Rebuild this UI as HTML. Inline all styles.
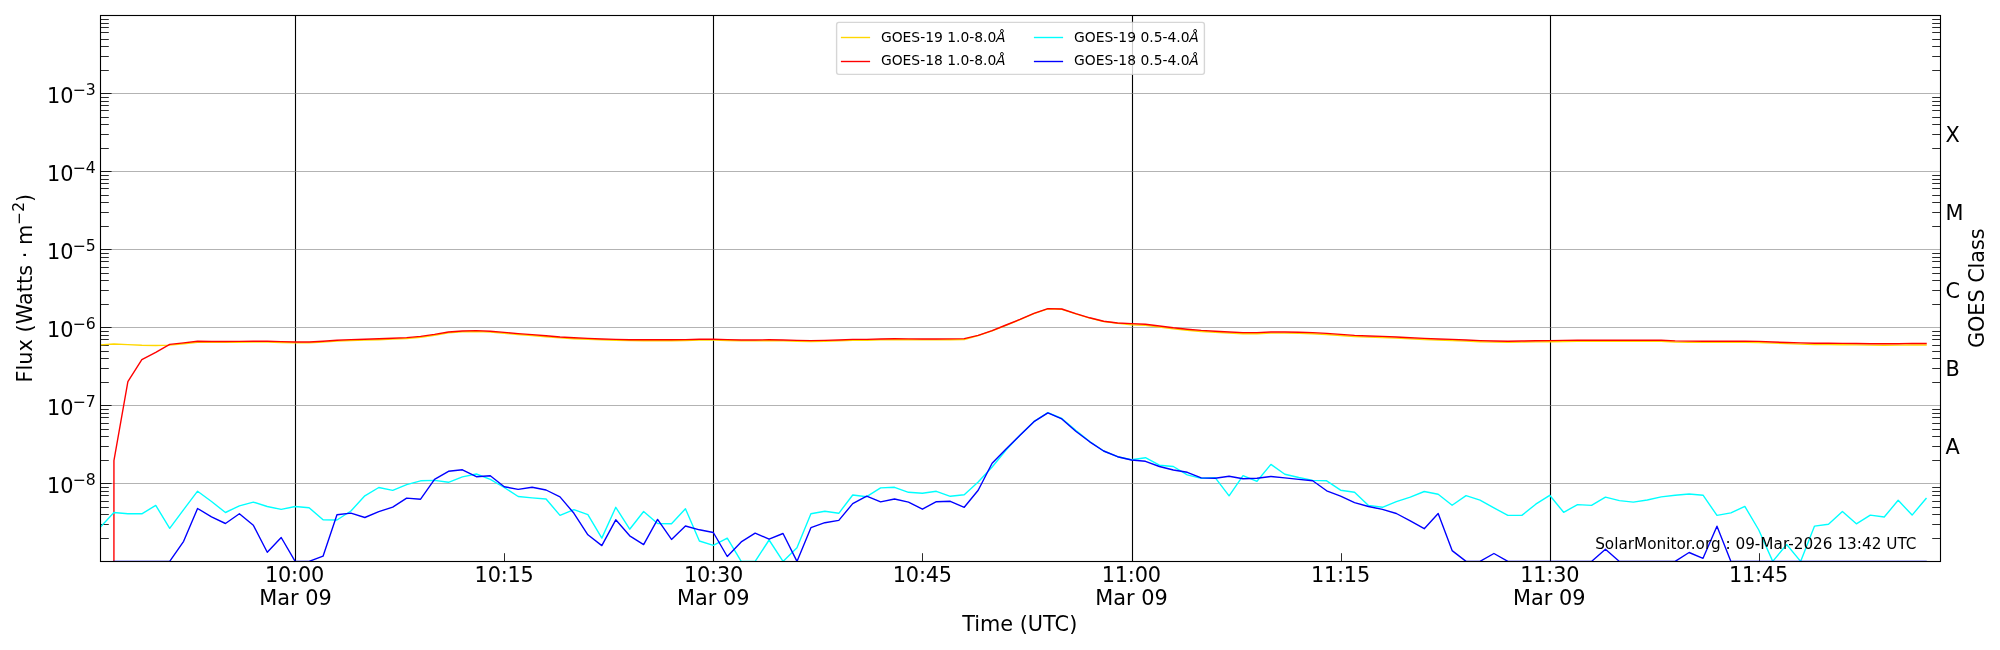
<!DOCTYPE html>
<html lang="en"><head><meta charset="utf-8"><title>GOES X-ray Flux</title>
<style>html,body{margin:0;padding:0;background:#fff}svg{display:block;will-change:transform}text{font-family:"DejaVu Sans","Liberation Sans",sans-serif;fill:#000}</style></head><body>
<svg width="2000" height="650" viewBox="0 0 2000 650">
<rect width="2000" height="650" fill="#fff"/>
<defs><clipPath id="ax"><rect x="100" y="15" width="1840.5" height="546.5"/></clipPath></defs>
<g stroke="#000" stroke-width="1.11" fill="none">
<path d="M295.5 15.5V561.5"/>
<path d="M713.5 15.5V561.5"/>
<path d="M1132.5 15.5V561.5"/>
<path d="M1550.5 15.5V561.5"/>
</g>
<g stroke="#808080" stroke-opacity="0.6" stroke-width="1.11" fill="none">
<path d="M100.5 93.5H1940.5"/>
<path d="M100.5 171.5H1940.5"/>
<path d="M100.5 249.5H1940.5"/>
<path d="M100.5 327.5H1940.5"/>
<path d="M100.5 405.5H1940.5"/>
<path d="M100.5 483.5H1940.5"/>
</g>
<g stroke="#000" fill="none">
<path stroke-width="0.85" d="M100.5 483.5h11.1M100.5 405.5h11.1M100.5 327.5h11.1M100.5 249.5h11.1M100.5 171.5h11.1M100.5 93.5h11.1"/>
<path stroke-width="0.83" d="M100.5 538.5h8.3M100.5 524.5h8.3M100.5 514.5h8.3M100.5 507.5h8.3M100.5 501.5h8.3M100.5 495.5h8.3M100.5 491.5h8.3M100.5 487.5h8.3M100.5 460.5h8.3M100.5 446.5h8.3M100.5 436.5h8.3M100.5 429.5h8.3M100.5 423.5h8.3M100.5 417.5h8.3M100.5 413.5h8.3M100.5 409.5h8.3M100.5 382.5h8.3M100.5 368.5h8.3M100.5 358.5h8.3M100.5 351.5h8.3M100.5 345.5h8.3M100.5 339.5h8.3M100.5 335.5h8.3M100.5 331.5h8.3M100.5 304.5h8.3M100.5 290.5h8.3M100.5 280.5h8.3M100.5 273.5h8.3M100.5 267.5h8.3M100.5 261.5h8.3M100.5 257.5h8.3M100.5 253.5h8.3M100.5 226.5h8.3M100.5 212.5h8.3M100.5 202.5h8.3M100.5 195.5h8.3M100.5 188.5h8.3M100.5 183.5h8.3M100.5 179.5h8.3M100.5 175.5h8.3M100.5 148.5h8.3M100.5 134.5h8.3M100.5 124.5h8.3M100.5 117.5h8.3M100.5 110.5h8.3M100.5 105.5h8.3M100.5 101.5h8.3M100.5 97.5h8.3M100.5 70.5h8.3M100.5 56.5h8.3M100.5 46.5h8.3M100.5 39.5h8.3M100.5 32.5h8.3M100.5 27.5h8.3M100.5 23.5h8.3M100.5 19.5h8.3"/>
<path stroke-width="0.83" d="M1940.5 538.5h-8.3M1940.5 524.5h-8.3M1940.5 514.5h-8.3M1940.5 507.5h-8.3M1940.5 501.5h-8.3M1940.5 495.5h-8.3M1940.5 491.5h-8.3M1940.5 487.5h-8.3M1940.5 460.5h-8.3M1940.5 446.5h-8.3M1940.5 436.5h-8.3M1940.5 429.5h-8.3M1940.5 423.5h-8.3M1940.5 417.5h-8.3M1940.5 413.5h-8.3M1940.5 409.5h-8.3M1940.5 382.5h-8.3M1940.5 368.5h-8.3M1940.5 358.5h-8.3M1940.5 351.5h-8.3M1940.5 345.5h-8.3M1940.5 339.5h-8.3M1940.5 335.5h-8.3M1940.5 331.5h-8.3M1940.5 304.5h-8.3M1940.5 290.5h-8.3M1940.5 280.5h-8.3M1940.5 273.5h-8.3M1940.5 267.5h-8.3M1940.5 261.5h-8.3M1940.5 257.5h-8.3M1940.5 253.5h-8.3M1940.5 226.5h-8.3M1940.5 212.5h-8.3M1940.5 202.5h-8.3M1940.5 195.5h-8.3M1940.5 188.5h-8.3M1940.5 183.5h-8.3M1940.5 179.5h-8.3M1940.5 175.5h-8.3M1940.5 148.5h-8.3M1940.5 134.5h-8.3M1940.5 124.5h-8.3M1940.5 117.5h-8.3M1940.5 110.5h-8.3M1940.5 105.5h-8.3M1940.5 101.5h-8.3M1940.5 97.5h-8.3M1940.5 70.5h-8.3M1940.5 56.5h-8.3M1940.5 46.5h-8.3M1940.5 39.5h-8.3M1940.5 32.5h-8.3M1940.5 27.5h-8.3M1940.5 23.5h-8.3M1940.5 19.5h-8.3"/>
<path stroke-width="0.83" d="M504.5 561.5v-8.3M922.5 561.5v-8.3M1341.5 561.5v-8.3M1759.5 561.5v-8.3"/>
</g>
<g clip-path="url(#ax)" fill="none" stroke-width="1.39" stroke-linejoin="round" stroke-linecap="square">
<path stroke="#ffd700" d="M100.00 344.90 L113.94 344.00 L127.88 344.60 L141.82 345.30 L155.76 345.50 L169.70 345.10 L183.63 343.70 L197.57 342.20 L211.51 342.40 L225.45 342.40 L239.39 342.30 L253.33 342.10 L267.27 342.10 L281.21 342.50 L295.15 342.90 L309.09 342.90 L323.03 342.10 L336.97 341.10 L350.91 340.50 L364.85 340.10 L378.79 339.70 L392.73 339.10 L406.67 338.50 L420.60 337.30 L434.54 335.30 L448.48 332.90 L462.42 331.90 L476.36 331.50 L490.30 332.10 L504.24 333.30 L518.18 334.50 L532.12 335.50 L546.06 336.70 L560.00 337.90 L573.94 338.70 L587.88 339.30 L601.82 339.90 L615.76 340.30 L629.70 340.60 L643.63 340.70 L657.57 340.70 L671.51 340.70 L685.45 340.50 L699.39 340.10 L713.33 340.10 L727.27 340.50 L741.21 340.90 L755.15 340.90 L769.09 340.70 L783.03 340.90 L796.97 341.30 L810.91 341.50 L824.85 341.30 L838.79 340.90 L852.73 340.30 L866.67 340.30 L880.60 339.90 L894.54 339.70 L908.48 339.80 L922.42 339.90 L936.36 339.90 L950.30 339.80 L964.24 339.50 L978.18 335.70 L992.12 330.90 L1006.06 325.30 L1020.00 319.70 L1033.94 313.70 L1047.88 308.90 L1061.82 309.30 L1075.76 313.90 L1089.70 318.10 L1103.64 321.50 L1117.57 323.30 L1131.51 324.70 L1145.45 325.30 L1159.39 327.10 L1173.33 328.90 L1187.27 330.30 L1201.21 331.50 L1215.15 332.30 L1229.09 333.10 L1243.03 333.70 L1256.97 333.70 L1270.91 333.10 L1284.85 333.10 L1298.79 333.30 L1312.73 333.70 L1326.67 334.50 L1340.61 335.50 L1354.54 336.50 L1368.48 337.10 L1382.42 337.50 L1396.36 338.10 L1410.30 338.90 L1424.24 339.50 L1438.18 340.10 L1452.12 340.50 L1466.06 341.10 L1480.00 341.70 L1493.94 342.10 L1507.88 342.30 L1521.82 342.10 L1535.76 341.90 L1549.70 341.70 L1563.64 341.50 L1577.57 341.30 L1591.51 341.30 L1605.45 341.30 L1619.39 341.30 L1633.33 341.30 L1647.27 341.30 L1661.21 341.30 L1675.15 342.00 L1689.09 342.20 L1703.03 342.30 L1716.97 342.30 L1730.91 342.30 L1744.85 342.40 L1758.79 342.50 L1772.73 343.13 L1786.67 343.67 L1800.61 344.10 L1814.54 344.44 L1828.48 344.47 L1842.42 344.71 L1856.36 344.85 L1870.30 345.08 L1884.24 345.22 L1898.18 345.15 L1912.12 344.90 L1926.06 345.00"/>
<path stroke="#ff0000" d="M113.92 700 L113.94 460.70 L127.88 381.70 L141.82 359.70 L155.76 352.30 L169.70 344.40 L183.63 342.90 L197.57 341.30 L211.51 341.50 L225.45 341.50 L239.39 341.40 L253.33 341.20 L267.27 341.20 L281.21 341.60 L295.15 342.00 L309.09 342.00 L323.03 341.20 L336.97 340.20 L350.91 339.60 L364.85 339.20 L378.79 338.80 L392.73 338.20 L406.67 337.60 L420.60 336.40 L434.54 334.40 L448.48 332.00 L462.42 331.00 L476.36 330.60 L490.30 331.20 L504.24 332.40 L518.18 333.60 L532.12 334.60 L546.06 335.80 L560.00 337.00 L573.94 337.80 L587.88 338.40 L601.82 339.00 L615.76 339.40 L629.70 339.70 L643.63 339.80 L657.57 339.80 L671.51 339.80 L685.45 339.60 L699.39 339.20 L713.33 339.20 L727.27 339.60 L741.21 340.00 L755.15 340.00 L769.09 339.80 L783.03 340.00 L796.97 340.40 L810.91 340.60 L824.85 340.40 L838.79 340.00 L852.73 339.40 L866.67 339.40 L880.60 339.00 L894.54 338.80 L908.48 338.90 L922.42 339.00 L936.36 339.00 L950.30 338.90 L964.24 338.60 L978.18 335.40 L992.12 330.60 L1006.06 325.00 L1020.00 319.40 L1033.94 313.40 L1047.88 308.60 L1061.82 309.00 L1075.76 313.60 L1089.70 317.80 L1103.64 321.20 L1117.57 323.00 L1131.51 323.60 L1145.45 324.20 L1159.39 326.00 L1173.33 327.80 L1187.27 329.20 L1201.21 330.40 L1215.15 331.20 L1229.09 332.00 L1243.03 332.60 L1256.97 332.60 L1270.91 332.00 L1284.85 332.00 L1298.79 332.20 L1312.73 332.60 L1326.67 333.40 L1340.61 334.40 L1354.54 335.40 L1368.48 336.00 L1382.42 336.40 L1396.36 337.00 L1410.30 337.80 L1424.24 338.40 L1438.18 339.00 L1452.12 339.40 L1466.06 340.00 L1480.00 340.60 L1493.94 341.00 L1507.88 341.20 L1521.82 341.00 L1535.76 340.80 L1549.70 340.60 L1563.64 340.40 L1577.57 340.20 L1591.51 340.20 L1605.45 340.20 L1619.39 340.20 L1633.33 340.20 L1647.27 340.20 L1661.21 340.20 L1675.15 340.90 L1689.09 341.10 L1703.03 341.20 L1716.97 341.20 L1730.91 341.20 L1744.85 341.30 L1758.79 341.40 L1772.73 342.00 L1786.67 342.50 L1800.61 342.90 L1814.54 343.20 L1828.48 343.20 L1842.42 343.40 L1856.36 343.50 L1870.30 343.70 L1884.24 343.80 L1898.18 343.70 L1912.12 343.40 L1926.06 343.50"/>
<path stroke="#00ffff" d="M100.00 527.50 L113.94 512.50 L127.88 513.80 L141.82 513.80 L155.76 505.40 L169.70 528.30 L183.63 509.60 L197.57 491.20 L211.51 501.50 L225.45 512.50 L239.39 505.80 L253.33 502.10 L267.27 506.50 L281.21 509.40 L295.15 506.50 L309.09 507.70 L323.03 519.80 L336.97 520.00 L350.91 511.00 L364.85 495.80 L378.79 487.50 L392.73 490.40 L406.67 484.60 L420.60 480.80 L434.54 480.40 L448.48 482.30 L462.42 476.90 L476.36 474.00 L490.30 479.40 L504.24 487.50 L518.18 496.50 L532.12 497.90 L546.06 499.00 L560.00 515.40 L573.94 509.60 L587.88 514.60 L601.82 538.10 L615.76 507.30 L629.70 529.20 L643.63 511.50 L657.57 523.50 L671.51 523.70 L685.45 508.70 L699.39 541.00 L713.33 545.40 L727.27 538.10 L741.21 561.40 L755.15 561.40 L769.09 540.00 L783.03 561.40 L796.97 547.70 L810.91 513.70 L824.85 511.30 L838.79 513.30 L852.73 495.00 L866.67 496.70 L880.60 487.90 L894.54 487.30 L908.48 492.30 L922.42 493.30 L936.36 491.30 L950.30 496.30 L964.24 494.70 L978.18 482.00 L992.12 467.00 L1006.06 450.00 L1020.00 435.20 L1033.94 421.70 L1047.88 412.60 L1061.82 418.50 L1075.76 430.30 L1089.70 441.50 L1103.64 451.00 L1117.57 456.70 L1131.51 459.70 L1145.45 457.70 L1159.39 465.20 L1173.33 466.50 L1187.27 474.80 L1201.21 478.30 L1215.15 477.70 L1229.09 495.80 L1243.03 475.60 L1256.97 481.30 L1270.91 464.40 L1284.85 474.20 L1298.79 477.50 L1312.73 480.40 L1326.67 480.80 L1340.61 490.20 L1354.54 492.20 L1368.48 505.40 L1382.42 507.30 L1396.36 501.70 L1410.30 497.10 L1424.24 491.50 L1438.18 494.20 L1452.12 505.20 L1466.06 495.60 L1480.00 500.20 L1493.94 507.90 L1507.88 515.40 L1521.82 515.40 L1535.76 504.20 L1549.70 495.30 L1563.64 512.30 L1577.57 504.60 L1591.51 505.40 L1605.45 497.10 L1619.39 500.60 L1633.33 502.10 L1647.27 500.00 L1661.21 496.90 L1675.15 495.20 L1689.09 494.00 L1703.03 495.20 L1716.97 515.40 L1730.91 512.90 L1744.85 506.40 L1758.79 530.00 L1772.73 561.40 L1786.67 544.50 L1800.61 561.40 L1814.54 526.10 L1828.48 524.30 L1842.42 511.50 L1856.36 523.80 L1870.30 515.10 L1884.24 517.00 L1898.18 500.30 L1912.12 515.10 L1926.06 498.50"/>
<path stroke="#0000ff" d="M113.94 561.40 L127.88 561.40 L141.82 561.40 L155.76 561.40 L169.70 561.40 L183.63 541.30 L197.57 508.50 L211.51 516.90 L225.45 523.50 L239.39 513.70 L253.33 525.20 L267.27 552.30 L281.21 537.50 L295.15 561.40 L309.09 561.40 L323.03 556.20 L336.97 514.80 L350.91 513.10 L364.85 517.50 L378.79 511.70 L392.73 507.10 L406.67 498.10 L420.60 499.20 L434.54 479.40 L448.48 471.30 L462.42 469.80 L476.36 476.70 L490.30 475.80 L504.24 486.70 L518.18 489.40 L532.12 487.30 L546.06 490.00 L560.00 496.90 L573.94 513.30 L587.88 534.80 L601.82 545.60 L615.76 519.80 L629.70 535.80 L643.63 544.60 L657.57 519.40 L671.51 539.40 L685.45 526.00 L699.39 529.80 L713.33 532.50 L727.27 556.50 L741.21 541.90 L755.15 533.10 L769.09 539.20 L783.03 533.50 L796.97 561.40 L810.91 527.70 L824.85 522.70 L838.79 520.40 L852.73 503.60 L866.67 496.20 L880.60 501.90 L894.54 499.00 L908.48 502.10 L922.42 509.20 L936.36 501.70 L950.30 501.30 L964.24 507.30 L978.18 490.20 L992.12 463.20 L1006.06 449.00 L1020.00 435.20 L1033.94 421.70 L1047.88 412.90 L1061.82 418.90 L1075.76 431.30 L1089.70 441.80 L1103.64 451.00 L1117.57 456.70 L1131.51 460.00 L1145.45 461.30 L1159.39 466.50 L1173.33 470.00 L1187.27 472.30 L1201.21 477.90 L1215.15 478.30 L1229.09 476.30 L1243.03 478.70 L1256.97 478.30 L1270.91 476.50 L1284.85 477.90 L1298.79 479.40 L1312.73 480.80 L1326.67 490.80 L1340.61 496.20 L1354.54 502.70 L1368.48 506.50 L1382.42 509.40 L1396.36 513.50 L1410.30 520.80 L1424.24 528.70 L1438.18 513.50 L1452.12 550.60 L1466.06 561.40 L1480.00 561.40 L1493.94 553.50 L1507.88 561.40 L1521.82 561.40 L1535.76 561.40 L1549.70 561.40 L1563.64 561.40 L1577.57 561.40 L1591.51 561.40 L1605.45 549.30 L1619.39 561.40 L1633.33 561.40 L1647.27 561.40 L1661.21 561.40 L1675.15 561.40 L1689.09 552.50 L1703.03 558.30 L1716.97 526.20 L1730.91 561.40 L1744.85 561.40 L1758.79 561.40 L1772.73 561.40 L1786.67 561.40 L1800.61 561.40 L1814.54 561.40 L1828.48 561.40 L1842.42 561.40 L1856.36 561.40 L1870.30 561.40 L1884.24 561.40 L1898.18 561.40 L1912.12 561.40 L1926.06 561.40"/>
</g>
<rect x="100.5" y="15.5" width="1840" height="546" fill="none" stroke="#000" stroke-width="1.11"/>
<text font-size="20.83" x="47.0" y="102.65">10<tspan font-size="15.7" x="72.4 85.7" y="94.95">−3</tspan></text>
<text font-size="20.83" x="47.0" y="180.65">10<tspan font-size="15.7" x="72.4 85.7" y="172.95">−4</tspan></text>
<text font-size="20.83" x="47.0" y="258.65">10<tspan font-size="15.7" x="72.4 85.7" y="250.95">−5</tspan></text>
<text font-size="20.83" x="47.0" y="336.65">10<tspan font-size="15.7" x="72.4 85.7" y="328.95">−6</tspan></text>
<text font-size="20.83" x="47.0" y="414.65">10<tspan font-size="15.7" x="72.4 85.7" y="406.95">−7</tspan></text>
<text font-size="20.83" x="47.0" y="492.65">10<tspan font-size="15.7" x="72.4 85.7" y="484.95">−8</tspan></text>
<text font-size="20.83" letter-spacing="-0.19" x="265.0" y="581.7">10:00</text>
<text font-size="20.83" letter-spacing="-0.19" x="474.6" y="581.7">10:15</text>
<text font-size="20.83" letter-spacing="-0.19" x="684.0" y="581.7">10:30</text>
<text font-size="20.83" letter-spacing="-0.19" x="892.8" y="581.7">10:45</text>
<text font-size="20.83" letter-spacing="-0.19" x="1101.7" y="581.7">11:00</text>
<text font-size="20.83" letter-spacing="-0.19" x="1310.9" y="581.7">11:15</text>
<text font-size="20.83" letter-spacing="-0.19" x="1520.2" y="581.7">11:30</text>
<text font-size="20.83" letter-spacing="-0.19" x="1728.9" y="581.7">11:45</text>
<text font-size="20.83" text-anchor="middle" x="295.5" y="604.7">Mar 09</text>
<text font-size="20.83" text-anchor="middle" x="713.2" y="604.7">Mar 09</text>
<text font-size="20.83" text-anchor="middle" x="1131.5" y="604.7">Mar 09</text>
<text font-size="20.83" text-anchor="middle" x="1549.2" y="604.7">Mar 09</text>
<text font-size="20.83" text-anchor="middle" x="1019.7" y="630.5">Time (UTC)</text>
<text font-size="20.83" letter-spacing="0.03" transform="translate(32.1 382.5) rotate(-90)">Flux (Watts · m<tspan font-size="15.4" dy="-8.6">−2</tspan><tspan dy="8.6">)</tspan></text>
<text font-size="20.83" letter-spacing="-0.08" transform="translate(1984.2 348.0) rotate(-90)">GOES Class</text>
<text font-size="20.83" x="1945.4" y="141.88">X</text>
<text font-size="20.83" x="1945.4" y="219.88">M</text>
<text font-size="20.83" x="1945.4" y="297.88">C</text>
<text font-size="20.83" x="1945.4" y="375.88">B</text>
<text font-size="20.83" x="1945.4" y="453.88">A</text>
<text font-size="15.28" text-anchor="end" x="1916.5" y="548.8">SolarMonitor.org : 09-Mar-2026 13:42 UTC</text>
<rect x="836.6" y="22.4" width="367.8" height="52" rx="2.3" ry="2.3" fill="#fff" fill-opacity="0.8" stroke="#ccc" stroke-opacity="0.8" stroke-width="1.39"/>
<g fill="none" stroke-width="1.39" stroke-linecap="square">
<path stroke="#ffd700" d="M841.6 37.5h27.8"/>
<path stroke="#ff0000" d="M841.6 61.5h27.8"/>
<path stroke="#00ffff" d="M1034.6 37.5h27.8"/>
<path stroke="#0000ff" d="M1034.6 61.5h27.8"/>
</g>
<text font-size="13.89" x="880.9" y="41.9">GOES-19 1.0-8.0<tspan font-style="italic" dx="-0.3">Å</tspan></text>
<text font-size="13.89" x="880.9" y="64.6">GOES-18 1.0-8.0<tspan font-style="italic" dx="-0.3">Å</tspan></text>
<text font-size="13.89" x="1074.1" y="41.9">GOES-19 0.5-4.0<tspan font-style="italic" dx="-0.3">Å</tspan></text>
<text font-size="13.89" x="1074.1" y="64.6">GOES-18 0.5-4.0<tspan font-style="italic" dx="-0.3">Å</tspan></text>
</svg></body></html>
